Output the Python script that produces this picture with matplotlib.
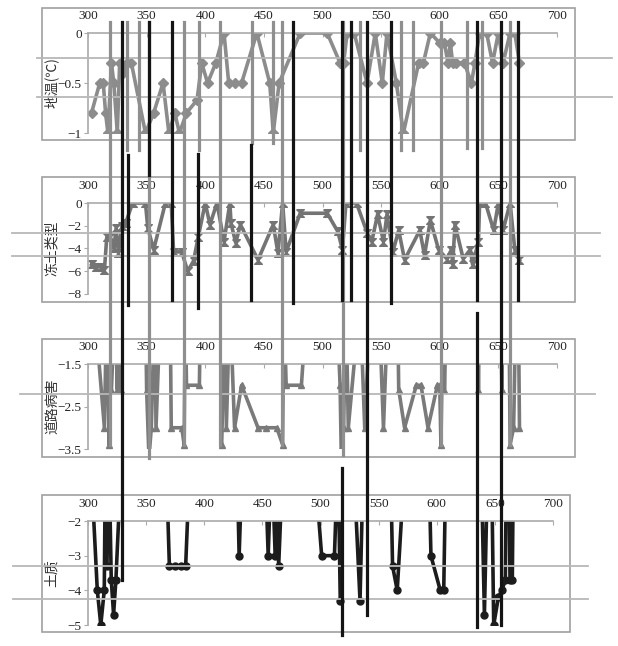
import matplotlib
matplotlib.use('Agg')
import matplotlib.pyplot as plt
import matplotlib.transforms as mtransforms
from matplotlib.lines import Line2D
from matplotlib.patches import Rectangle
from matplotlib.path import Path

plt.rcParams['font.family'] = ['Liberation Serif', 'Noto Sans CJK SC', 'DejaVu Sans']
plt.rcParams['axes.unicode_minus'] = True

# ---- data (0 = point above the plotted range, clipped) ----
x_temp = [303, 310, 313, 315, 317, 320, 322, 325, 327, 330, 333, 337, 349, 356, 364,
          369, 374, 378, 384, 393, 397, 402, 409, 416, 420, 425, 431, 444, 455, 458,
          463, 481, 504, 515, 518, 521, 527, 538, 545, 551, 555, 563, 569, 582, 586,
          592, 600, 604, 607, 609, 611, 614, 621, 627, 630, 634, 640, 645, 650, 654,
          660, 664, 668]
y_temp = [-0.8, -0.5, -0.5, -0.8, -1.0, -0.3, -0.5, -1.0, -0.3, -0.4, -0.3, -0.3, -1.0, -0.8, -0.5,
          -1.0, -0.8, -1.0, -0.8, -0.67, -0.3, -0.5, -0.3, 0.0, -0.5, -0.5, -0.5, 0.0, -0.5, -1.0,
          -0.5, 0.0, 0.0, -0.3, -0.3, 0.0, 0.0, -0.5, 0.0, -0.5, 0.0, -0.5, -1.0, -0.3, -0.3,
          0.0, -0.1, -0.1, -0.3, -0.1, -0.3, -0.3, -0.3, -0.5, -0.3, 0.0, 0.0, -0.3, 0.0, -0.3,
          0.0, 0.0, -0.3]

x_frozen = [303, 307, 311, 314, 316, 319, 322, 324, 326, 329, 332, 338, 349, 351, 356,
            366, 371, 373, 380, 385, 390, 394, 400, 404, 410, 416, 421, 422, 426, 430,
            445, 458, 462, 466, 469, 481, 504, 513, 517, 520, 529, 538, 542, 547, 552,
            555, 560, 565, 570, 583, 587, 592, 599, 606, 610, 611, 613, 620, 626, 628,
            633, 634, 639, 646, 650, 654, 660, 664, 668]
y_frozen = [-5.4, -5.6, -5.6, -5.9, -3.0, -3.0, -4.0, -2.2, -4.4, -2.0, -1.8, 0.0, 0.0, -2.2, -4.1,
            0.0, 0.0, -4.3, -4.3, -6.0, -5.1, -3.0, 0.0, -1.9, 0.0, -3.4, 0.0, -1.8, -3.5, -1.9,
            -5.0, -1.9, -4.4, 0.0, -4.3, -0.9, -0.9, -2.5, -4.1, 0.0, 0.0, -2.6, -3.4, -1.0, -3.4,
            -1.0, -4.3, -2.4, -5.0, -2.4, -4.6, -1.5, -4.1, -4.9, -4.1, -5.4, -1.9, -4.9, -4.1, -5.4,
            -3.4, 0.0, 0.0, -2.4, 0.0, -2.4, 0.0, -4.1, -5.0]

x_road = [305, 314, 316, 318, 319, 320, 323, 325, 326, 328, 330, 349, 350, 352, 354,
          357, 358, 362, 370, 371, 380, 382, 383, 384, 395, 396, 413, 414, 417, 418,
          421, 425, 431, 445, 452, 461, 466, 467, 469, 482, 487, 512, 515, 516, 518,
          520, 522, 532, 536, 541, 548, 552, 556, 564, 565, 570, 580, 584, 590, 598,
          600, 601, 603, 604, 606, 632, 633, 634, 652, 653, 654, 659, 660, 663, 665,
          667, 668]
y_road = [0.0, -3.0, 0.0, -3.4, 0.0, -2.1, 0.0, -2.1, 0.0, -2.1, 0.0, 0.0, -2.1, -3.7, -3.0,
          0.0, -3.0, 0.0, 0.0, -3.0, -3.0, -3.4, 0.0, -2.0, -2.0, 0.0, 0.0, -3.4, 0.0, -3.0,
          0.0, -3.0, -2.0, -3.0, -3.0, -3.0, -3.4, 0.0, -2.0, -2.0, 0.0, 0.0, -2.0, -3.6, -3.0,
          0.0, -3.0, 0.0, -3.0, 0.0, 0.0, -3.0, 0.0, 0.0, -2.1, -3.0, -2.0, -2.0, -3.0, -2.0,
          -2.0, -3.4, 0.0, -2.1, 0.0, 0.0, -2.1, 0.0, 0.0, -2.1, 0.0, 0.0, -3.4, -3.0, 0.0,
          0.0, -3.0]

x_soil = [302, 308, 311, 314, 315, 316, 318, 320, 322, 324, 329, 367, 370, 375, 380,
          384, 388, 428, 430, 433, 452, 455, 458, 461, 462, 464, 468, 494, 501, 512,
          515, 517, 520, 528, 534, 537, 560, 562, 566, 573, 593, 595, 603, 606, 608,
          638, 641, 644, 647, 649, 653, 656, 659, 660, 662, 663, 665, 666]
y_soil = [0.0, -4.0, -5.0, -4.0, 0.0, -3.3, 0.0, -3.7, -4.7, -3.7, 0.0, 0.0, -3.3, -3.3, -3.3,
          -3.3, 0.0, 0.0, -3.0, 0.0, 0.0, -3.0, 0.0, -3.0, 0.0, -3.3, 0.0, 0.0, -3.0, -3.0,
          0.0, -4.3, 0.0, 0.0, -4.3, 0.0, 0.0, -3.3, -4.0, 0.0, 0.0, -3.0, -4.0, -4.0, 0.0,
          0.0, -4.7, 0.0, 0.0, -5.0, -4.2, -4.0, -3.7, 0.0, 0.0, -3.7, -3.7, 0.0]

x_ticks = [300, 350, 400, 450, 500, 550, 600, 650, 700]

# vertical overlay strokes: x in chart units, colour, top / bottom in pixels
v_strokes = [
    (318.8, '#8f8f8f', 22, 445), (333.3, '#8f8f8f', 22, 150), (343.5, '#8f8f8f', 22, 150),
    (352.0, '#8f8f8f', 22, 458), (381.9, '#8f8f8f', 22, 445), (394.7, '#8f8f8f', 22, 150),
    (412.6, '#8f8f8f', 22, 445), (439.9, '#8f8f8f', 22, 143), (457.8, '#8f8f8f', 22, 143),
    (465.5, '#8f8f8f', 22, 445), (517.5, '#8f8f8f', 22, 455), (532.0, '#8f8f8f', 22, 150),
    (567.0, '#8f8f8f', 22, 150), (577.2, '#8f8f8f', 22, 150), (601.1, '#8f8f8f', 22, 445),
    (623.2, '#8f8f8f', 22, 148), (636.0, '#8f8f8f', 22, 148), (659.9, '#8f8f8f', 22, 445),
    (329.0, '#141414', 22, 580), (334.1, '#141414', 155, 305), (352.0, '#141414', 22, 175),
    (371.6, '#141414', 22, 300), (393.8, '#141414', 154, 308), (439.0, '#141414', 145, 300),
    (474.8, '#141414', 22, 303), (516.6, '#141414', 22, 300), (516.6, '#141414', 468, 635),
    (524.3, '#141414', 22, 300), (538.0, '#141414', 22, 615), (558.4, '#141414', 22, 303),
    (631.8, '#141414', 22, 300), (631.8, '#141414', 313, 627), (652.2, '#141414', 22, 625),
    (666.7, '#141414', 22, 300),
]

W, H = 618, 646
fig = plt.figure(figsize=(W / 100, H / 100), dpi=100)

hourglass = Path([(-1, 1), (1, 1), (-1, -1), (1, -1), (-1, 1)])

panels = [
    # label, x, y, ylim, yticks, ylabels, axes box (l, t, r, b px), frame box, style, overlay h-lines (data y)
    ('地温(℃)', x_temp, y_temp, (-1, 0), [0, -0.5, -1], ['0', '\u22120.5', '\u22121'],
     (88, 33, 557, 133), (42, 8, 575, 140),
     dict(color='#8c8c8c', lw=2.6, marker='D', ms=5, mec='#8c8c8c'), [-0.25, -0.64], (37, 612)),
    ('冻土类型', x_frozen, y_frozen, (-8, 0), [0, -2, -4, -6, -8],
     ['0', '\u22122', '\u22124', '\u22126', '\u22128'],
     (88, 203, 557, 294), (42, 177, 575, 302),
     dict(color='#747474', lw=2.6, marker=hourglass, ms=5.5, mec='#747474'), [-2.64, -4.66], (12, 600)),
    ('道路病害', x_road, y_road, (-3.5, -1.5), [-1.5, -2.5, -3.5],
     ['\u22121.5', '\u22122.5', '\u22123.5'],
     (88, 364, 557, 449), (42, 339, 575, 457),
     dict(color='#7a7a7a', lw=2.6, marker='^', ms=4.5, mec='#7a7a7a'), [-2.21], (20, 595)),
    ('土质', x_soil, y_soil, (-5, -2), [-2, -3, -4, -5],
     ['\u22122', '\u22123', '\u22124', '\u22125'],
     (88, 521, 553, 625), (42, 495, 570, 632),
     dict(color='#1c1c1c', lw=2.6, marker='o', ms=5, mec='#1c1c1c'), [-3.30, -4.25], (13, 588)),
]

axes = []
for label, xs, ys, ylim, yt, ytl, abox, fbox, style, hlines, hspan in panels:
    l, t, r, b = abox
    ax = fig.add_axes([l / W, 1 - b / H, (r - l) / W, (b - t) / H])
    ax.set_facecolor('none')
    ax.plot(xs, ys, **style)
    ax.set_xlim(300, 700)
    ax.set_ylim(*ylim)
    ax.xaxis.tick_top()
    ax.set_xticks(x_ticks)
    ax.set_xticklabels([str(v) for v in x_ticks])
    ax.set_yticks(yt)
    ax.set_yticklabels(ytl)
    ax.tick_params(axis='x', direction='in', length=3, pad=8, labelsize=9.5,
                   color='#aaaaaa', labelcolor='#222222')
    ax.tick_params(axis='y', direction='out', length=3, pad=1.5, labelsize=9.5,
                   color='#aaaaaa', labelcolor='#222222')
    for side in ('right', 'bottom'):
        ax.spines[side].set_visible(False)
    for side in ('top', 'left'):
        ax.spines[side].set_color('#aaaaaa')
        ax.spines[side].set_linewidth(1.2)
    ax.set_ylabel(label, family=['Noto Sans CJK SC', 'DejaVu Sans'], fontsize=10, color='#333333')
    ax.yaxis.set_label_coords(-29 / (r - l), 0.5)

    fl, ft, fr, fb = fbox
    fig.add_artist(Rectangle((fl / W, 1 - fb / H), (fr - fl) / W, (fb - ft) / H,
                             transform=fig.transFigure, fill=False,
                             edgecolor='#a0a0a0', lw=1.2, zorder=3))

    tr = mtransforms.blended_transform_factory(fig.transFigure, ax.transData)
    for hy in hlines:
        fig.add_artist(Line2D([hspan[0] / W, hspan[1] / W], [hy, hy], transform=tr,
                              color='#b8b8b8', lw=1.3, zorder=4))
    axes.append(ax)

vtr = mtransforms.blended_transform_factory(axes[0].transData, fig.transFigure)
for vx, col, top, bot in v_strokes:
    fig.add_artist(Line2D([vx, vx], [1 - top / H, 1 - bot / H], transform=vtr,
                          color=col, lw=2.3, zorder=5))

fig.savefig('out.png', dpi=100)
